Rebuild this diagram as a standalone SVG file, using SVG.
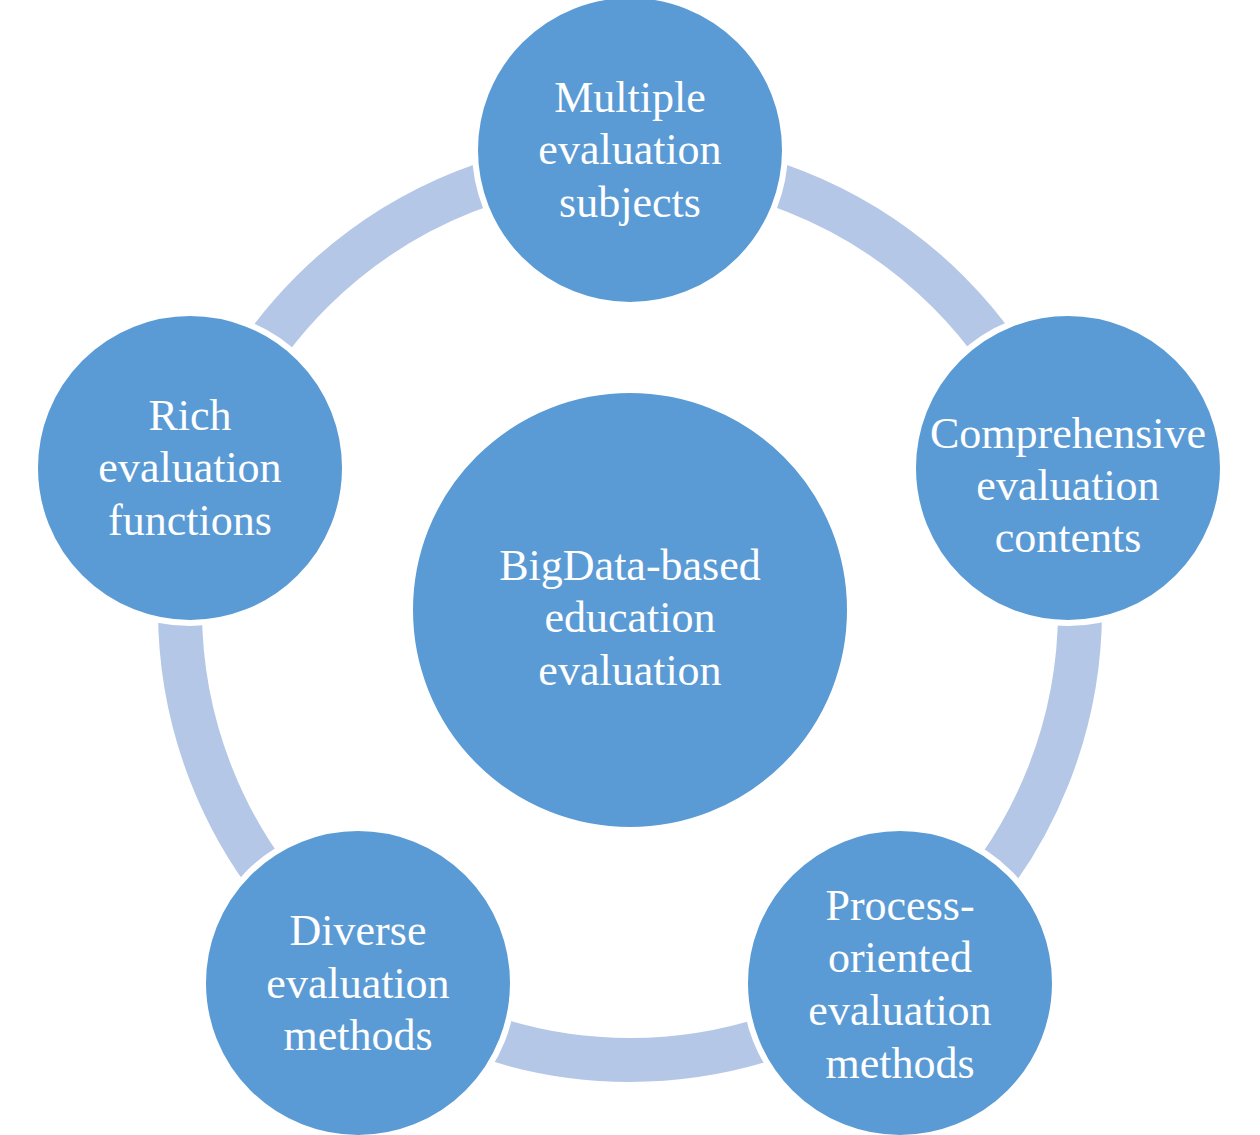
<svg xmlns="http://www.w3.org/2000/svg" width="1260" height="1135" viewBox="0 0 1260 1135">
<style>
.node{fill:#5B9BD5;stroke:#FFFFFF;stroke-width:6}
.lbl{font-family:"Liberation Serif","Times New Roman",serif;font-size:44px;fill:#FFFFFF;text-anchor:middle}
</style>
<rect width="1260" height="1135" fill="#FFFFFF"/>
<g id="connectors">
<circle cx="630" cy="610" r="450" fill="none" stroke="#B4C7E7" stroke-width="44"/>
</g>
<g id="center">
<circle class="node" cx="630" cy="610" r="220"/>
<text class="lbl" x="630"><tspan x="630" y="580">BigData-based</tspan><tspan x="630" y="632">education</tspan><tspan x="630" y="685">evaluation</tspan></text>
</g>
<g id="n-top">
<circle class="node" cx="630" cy="150" r="155"/>
<text class="lbl"><tspan x="630" y="112">Multiple</tspan><tspan x="630" y="164">evaluation</tspan><tspan x="630" y="217">subjects</tspan></text>
</g>
<g id="n-right">
<circle class="node" cx="1068" cy="468" r="155"/>
<text class="lbl"><tspan x="1068" y="448">Comprehensive</tspan><tspan x="1068" y="500">evaluation</tspan><tspan x="1068" y="552">contents</tspan></text>
</g>
<g id="n-bottom-right">
<circle class="node" cx="900" cy="983" r="155"/>
<text class="lbl"><tspan x="900" y="920">Process-</tspan><tspan x="900" y="972">oriented</tspan><tspan x="900" y="1025">evaluation</tspan><tspan x="900" y="1078">methods</tspan></text>
</g>
<g id="n-bottom-left">
<circle class="node" cx="358" cy="983" r="155"/>
<text class="lbl"><tspan x="358" y="945">Diverse</tspan><tspan x="358" y="998">evaluation</tspan><tspan x="358" y="1050">methods</tspan></text>
</g>
<g id="n-left">
<circle class="node" cx="190" cy="468" r="155"/>
<text class="lbl"><tspan x="190" y="430">Rich</tspan><tspan x="190" y="482">evaluation</tspan><tspan x="190" y="535">functions</tspan></text>
</g>
</svg>
